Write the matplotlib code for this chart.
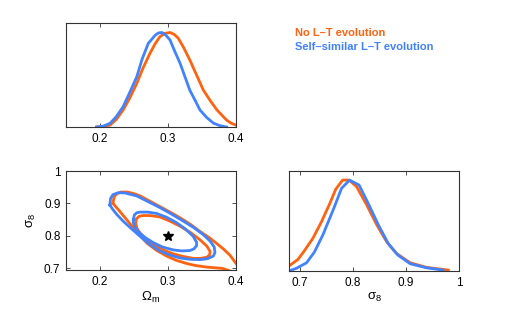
import matplotlib.pyplot as plt

plt.rcParams['font.family'] = ['Liberation Sans', 'DejaVu Sans']
plt.rcParams['mathtext.fontset'] = 'custom'
plt.rcParams['mathtext.rm'] = 'Liberation Sans'
plt.rcParams['mathtext.it'] = 'Liberation Sans'

orange = '#ff6210'
blue = '#4182ff'

# 1D marginal for Omega_m
om_orange = [0.195, 0.205, 0.2147, 0.224, 0.234, 0.244, 0.254, 0.263, 0.2735, 0.281, 0.288, 0.295,
             0.303, 0.309, 0.315, 0.323, 0.332, 0.342, 0.352, 0.362, 0.372, 0.386, 0.393, 0.40]
pom_orange = [0.0, 0.005, 0.02, 0.08, 0.18, 0.31, 0.46, 0.62, 0.78, 0.88, 0.955, 0.99,
              1.0, 0.98, 0.94, 0.84, 0.71, 0.55, 0.39, 0.28, 0.18, 0.074, 0.04, 0.02]
om_blue = [0.195, 0.205, 0.215, 0.224, 0.234, 0.244, 0.254, 0.262, 0.271, 0.281, 0.286, 0.291,
           0.297, 0.303, 0.310, 0.318, 0.325, 0.332, 0.340, 0.347, 0.357, 0.367, 0.376, 0.386]
pom_blue = [0.0, 0.01, 0.04, 0.11, 0.215, 0.37, 0.53, 0.72, 0.885, 0.97, 0.995, 1.0,
            0.97, 0.92, 0.80, 0.67, 0.53, 0.39, 0.28, 0.18, 0.10, 0.04, 0.015, 0.0]

# 1D marginal for sigma_8
s8_orange = [0.68, 0.697, 0.709, 0.725, 0.741, 0.757, 0.768, 0.781, 0.793, 0.807, 0.826, 0.845,
             0.864, 0.882, 0.908, 0.939, 0.98]
ps8_orange = [0.055, 0.128, 0.223, 0.36, 0.54, 0.745, 0.9, 1.0, 1.0, 0.93, 0.73, 0.51,
              0.32, 0.195, 0.09, 0.04, 0.01]
s8_blue = [0.68, 0.694, 0.713, 0.728, 0.744, 0.763, 0.779, 0.794, 0.812, 0.829, 0.848, 0.867,
           0.885, 0.908, 0.939, 0.97]
ps8_blue = [0.0, 0.03, 0.09, 0.21, 0.40, 0.67, 0.91, 1.0, 0.945, 0.745, 0.51, 0.30,
            0.175, 0.08, 0.035, 0.01]

# 2D contours (Omega_m, sigma_8)
outer_orange_om = [0.219, 0.2205, 0.224, 0.231, 0.240, 0.250, 0.259, 0.273, 0.288, 0.303, 0.318,
                   0.333, 0.347, 0.360, 0.371, 0.382, 0.391, 0.398, 0.405, 0.41, 0.40, 0.38,
                   0.357, 0.340, 0.3275, 0.312, 0.298, 0.283, 0.269, 0.254, 0.239, 0.228,
                   0.221, 0.219]
outer_orange_s8 = [0.90, 0.918, 0.929, 0.935, 0.935, 0.930, 0.923, 0.907, 0.89, 0.873, 0.855,
                   0.835, 0.813, 0.795, 0.777, 0.758, 0.74, 0.72, 0.70, 0.68, 0.685, 0.699,
                   0.703, 0.708, 0.714, 0.724, 0.737, 0.755, 0.777, 0.812, 0.85, 0.878,
                   0.895, 0.90]
outer_blue_om = [0.2145, 0.2155, 0.219, 0.227, 0.237, 0.254, 0.270, 0.288, 0.305, 0.3225, 0.338,
                 0.352, 0.362, 0.368, 0.369, 0.3667, 0.358, 0.347, 0.333, 0.318, 0.303, 0.288,
                 0.273, 0.259, 0.246, 0.234, 0.225, 0.2185, 0.2145]
outer_blue_s8 = [0.895, 0.915, 0.927, 0.933, 0.932, 0.923, 0.906, 0.887, 0.867, 0.845, 0.825,
                 0.803, 0.783, 0.765, 0.748, 0.737, 0.729, 0.726, 0.727, 0.731, 0.740, 0.753,
                 0.773, 0.798, 0.822, 0.845, 0.865, 0.882, 0.895]
inner_orange_om = [0.2525, 0.2535, 0.2575, 0.2637, 0.275, 0.288, 0.303, 0.318, 0.333, 0.347,
                   0.357, 0.362, 0.361, 0.357, 0.348, 0.337, 0.322, 0.3076, 0.292, 0.278,
                   0.267, 0.259, 0.2545, 0.2525]
inner_orange_s8 = [0.838, 0.852, 0.860, 0.8625, 0.862, 0.858, 0.845, 0.829, 0.810, 0.7875,
                   0.768, 0.751, 0.740, 0.7335, 0.73, 0.73, 0.736, 0.744, 0.757, 0.772,
                   0.79, 0.808, 0.822, 0.838]
inner_blue_om = [0.249, 0.2505, 0.254, 0.259, 0.270, 0.283, 0.298, 0.3128, 0.326, 0.337, 0.342,
                 0.342, 0.338, 0.332, 0.320, 0.308, 0.292, 0.278, 0.266, 0.256, 0.251, 0.249,
                 0.249]
inner_blue_s8 = [0.85, 0.864, 0.871, 0.873, 0.873, 0.869, 0.857, 0.84, 0.82, 0.798, 0.78,
                 0.769, 0.759, 0.754, 0.753, 0.756, 0.765, 0.779, 0.795, 0.813, 0.828, 0.84,
                 0.85]

fig = plt.figure(figsize=(5.07, 3.12), dpi=100)
ax1 = fig.add_axes([0.1302, 0.5929, 0.3353, 0.3333])
ax2 = fig.add_axes([0.1302, 0.1346, 0.3353, 0.3173])
ax3 = fig.add_axes([0.5700, 0.1314, 0.3353, 0.3205])

lw = 2.0
for ax in (ax1, ax2, ax3):
    for sp in ax.spines.values():
        sp.set_color('#333333')
        sp.set_linewidth(0.8)
    ax.tick_params(direction='in', length=3, width=0.6, color='#333333',
                   top=True, right=True, labelsize=8.5, pad=4)

ax1.plot(om_orange, pom_orange, color=orange, lw=lw)
ax1.plot(om_blue, pom_blue, color=blue, lw=lw)
ax1.set_xlim(0.15, 0.4)
ax1.set_ylim(0, 1.1)
ax1.set_xticks([0.2, 0.3, 0.4])
ax1.set_xticklabels(['0.2', '0.3', '0.4'])
ax1.set_yticks([])

ax2.plot(outer_orange_om, outer_orange_s8, color=orange, lw=lw, solid_joinstyle='round')
ax2.plot(inner_orange_om, inner_orange_s8, color=orange, lw=lw, solid_joinstyle='round')
ax2.plot(outer_blue_om, outer_blue_s8, color=blue, lw=lw, solid_joinstyle='round')
ax2.plot(inner_blue_om, inner_blue_s8, color=blue, lw=lw, solid_joinstyle='round')
ax2.plot([0.3], [0.8], marker='*', color='black', markersize=7, linestyle='none')
ax2.set_xlim(0.15, 0.4)
ax2.set_ylim(0.694, 1.0)
ax2.set_xticks([0.2, 0.3, 0.4])
ax2.set_xticklabels(['0.2', '0.3', '0.4'])
ax2.set_yticks([0.7, 0.8, 0.9, 1.0])
ax2.set_yticklabels(['0.7', '0.8', '0.9', '1'])
ax2.set_xlabel(r'$\Omega_\mathrm{m}$', fontsize=9.5, labelpad=2)
ax2.set_ylabel(r'$\sigma_8$', fontsize=9.5, labelpad=4)

ax3.plot(s8_orange, ps8_orange, color=orange, lw=lw)
ax3.plot(s8_blue, ps8_blue, color=blue, lw=lw)
ax3.set_xlim(0.68, 1.0)
ax3.set_ylim(0, 1.1)
ax3.set_xticks([0.7, 0.8, 0.9, 1.0])
ax3.set_xticklabels(['0.7', '0.8', '0.9', '1'])
ax3.set_yticks([])
ax3.set_xlabel(r'$\sigma_8$', fontsize=9.5, labelpad=2)

fig.text(295 / 507, 1 - 33 / 312, 'No L\u2013T evolution', color=orange,
         fontsize=8, fontweight='bold', va='center', ha='left')
fig.text(295 / 507, 1 - 47 / 312, 'Self\u2013similar L\u2013T evolution', color=blue,
         fontsize=8, fontweight='bold', va='center', ha='left')

fig.savefig('out.png', dpi=100)
